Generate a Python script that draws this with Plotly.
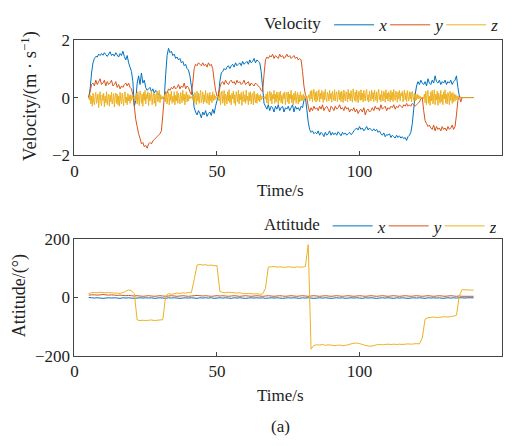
import numpy as np
import plotly.graph_objects as go

# ---------------- data ----------------
# velocity x / y sampled every 0.5 s, velocity z every 0.25 s, from 5 s to 140 s
t_vel = np.arange(5.0, 140.001, 0.5)
t_velz = np.arange(5.0, 140.001, 0.25)
# attitude sampled every 1 s from 5 s to 140 s
t_att = np.arange(5.0, 140.001, 1.0)

vel_x = [
    0.0, 0.3, 0.85, 1.2, 1.35, 1.42, 1.4, 1.5, 1.45, 1.52, 1.46, 1.55, 1.48, 1.42, 1.5, 1.58, 1.45, 1.5, 1.43, 1.55,
    1.47, 1.4, 1.52, 1.45, 1.6, 1.42, 1.3, 1.45, 1.2, 1.05, 0.9, 0.55, -0.3, -0.1, 0.5, 0.75, 0.45, 0.85, 0.5, 0.6,
    0.35, 0.25, 0.3, 0.35, 0.2, 0.3, 0.15, 0.25, 0.2, 0.1, 0.05, -0.05, 0.0, -0.05, 0.8, 1.45, 1.7, 1.55, 1.6, 1.45,
    1.5, 1.35, 1.4, 1.3, 1.35, 1.2, 1.25, 1.1, 1.15, 1.0, 0.95, 0.75, 0.4, 0.1, -0.35, -0.5, -0.6, -0.45, -0.55, -0.7,
    -0.5, -0.6, -0.45, -0.65, -0.55, -0.5, -0.62, -0.4, -0.55, -0.3, -0.1, 0.05, 0.55, 0.85, 0.9, 1.0, 0.95, 1.05, 1.1, 1.0,
    1.1, 1.15, 1.05, 1.2, 1.1, 1.15, 1.2, 1.1, 1.25, 1.15, 1.2, 1.25, 1.15, 1.3, 1.2, 1.25, 1.35, 1.2, 1.3, 1.25,
    1.2, 0.9, 0.35, -0.2, -0.3, -0.4, -0.25, -0.45, -0.3, -0.35, -0.5, -0.3, -0.4, -0.25, -0.45, -0.35, -0.3, -0.5, -0.35, -0.4,
    -0.3, -0.45, -0.35, -0.25, -0.5, -0.3, -0.4, -0.35, -0.45, -0.3, -0.35, -0.1, 0.0, -0.4, -0.85, -1.1, -1.2, -1.15, -1.25, -1.2,
    -1.25, -1.15, -1.3, -1.2, -1.25, -1.35, -1.2, -1.3, -1.25, -1.15, -1.3, -1.2, -1.28, -1.22, -1.3, -1.18, -1.25, -1.32, -1.2, -1.27,
    -1.22, -1.3, -1.25, -1.2, -1.28, -1.24, -1.15, -1.1, -1.05, -1.12, -1.0, -1.1, -1.05, -1.15, -1.08, -1.0, -1.12, -1.05, -1.1, -1.15,
    -1.08, -1.15, -1.1, -1.2, -1.15, -1.25, -1.3, -1.22, -1.35, -1.28, -1.3, -1.25, -1.38, -1.3, -1.35, -1.4, -1.3, -1.38, -1.32, -1.4,
    -1.35, -1.42, -1.38, -1.48, -1.35, -1.3, -1.2, -0.9, -0.4, 0.1, 0.4, 0.55, 0.45, 0.6, 0.5, 0.45, 0.55, 0.4, 0.65, 0.5,
    0.45, 0.6, 0.5, 0.75, 0.55, 0.5, 0.6, 0.45, 0.55, 0.5, 0.6, 0.45, 0.55, 0.5, 0.6, 0.45, 0.55, 0.6, 0.75, 0.35,
    0.05, 0.0, 0.0, 0.0, 0.0, 0.0, 0.0, 0.0, 0.0, 0.0, 0.0,
]

vel_y = [
    0.0, 0.2, 0.45, 0.5, 0.4, 0.6, 0.45, 0.55, 0.65, 0.45, 0.5, 0.6, 0.4, 0.55, 0.45, 0.5, 0.6, 0.4, 0.45, 0.55,
    0.35, 0.45, 0.3, 0.4, 0.35, 0.45, 0.5, 0.4, 0.5, 0.35, 0.3, 0.1, -0.3, -0.75, -1.0, -1.25, -1.4, -1.6, -1.55, -1.7,
    -1.65, -1.75, -1.6, -1.55, -1.6, -1.5, -1.45, -1.4, -1.35, -1.3, -1.25, -1.15, -0.6, 0.0, 0.2, 0.15, 0.3, 0.25, 0.35, 0.3,
    0.4, 0.3, 0.35, 0.45, 0.3, 0.4, 0.35, 0.5, 0.3, 0.4, 0.35, 0.2, 0.1, 0.5, 1.0, 1.15, 1.1, 1.2, 1.15, 1.1,
    1.2, 1.1, 1.15, 1.05, 1.2, 1.1, 1.15, 1.0, 0.6, 0.25, 0.05, 0.05, 0.35, 0.5, 0.55, 0.45, 0.6, 0.5, 0.45, 0.55,
    0.6, 0.5, 0.55, 0.45, 0.6, 0.5, 0.55, 0.45, 0.5, 0.6, 0.45, 0.5, 0.55, 0.4, 0.5, 0.45, 0.4, 0.5, 0.45, 0.4,
    0.35, 0.25, 0.2, 0.8, 1.3, 1.4, 1.35, 1.45, 1.4, 1.5, 1.35, 1.45, 1.4, 1.35, 1.5, 1.4, 1.45, 1.35, 1.4, 1.5,
    1.4, 1.45, 1.35, 1.4, 1.45, 1.35, 1.4, 1.3, 1.35, 1.3, 0.9, 0.4, 0.1, 0.0, -0.3, -0.5, -0.35, -0.45, -0.3, -0.4,
    -0.35, -0.45, -0.3, -0.4, -0.25, -0.45, -0.35, -0.3, -0.4, -0.5, -0.3, -0.35, -0.45, -0.3, -0.4, -0.35, -0.25, -0.4, -0.35, -0.45,
    -0.3, -0.4, -0.35, -0.5, -0.4, -0.45, -0.35, -0.5, -0.4, -0.55, -0.45, -0.4, -0.5, -0.35, -0.6, -0.45, -0.4, -0.5, -0.45, -0.35,
    -0.45, -0.3, -0.4, -0.35, -0.45, -0.25, -0.4, -0.35, -0.3, -0.45, -0.35, -0.4, -0.3, -0.35, -0.25, -0.4, -0.3, -0.35, -0.25, -0.3,
    -0.35, -0.25, -0.3, -0.2, -0.3, -0.25, -0.3, -0.2, -0.25, -0.3, -0.25, -0.2, -0.15, -0.05, 0.0, -0.45, -0.8, -0.9, -1.0, -0.95,
    -1.05, -1.1, -0.95, -1.15, -1.0, -1.1, -1.05, -1.15, -1.0, -1.1, -1.05, -1.15, -1.0, -1.1, -1.05, -0.95, -1.1, -1.0, -0.6, -0.1,
    0.05, -0.15, 0.0, 0.0, 0.0, 0.0, 0.0, 0.0, 0.0, 0.0, 0.0,
]

vel_z = [
    # 5 - 14.75 s
    0.0, -0.08, 0.1, -0.22, 0.05, -0.3, 0.15, -0.12, -0.25, 0.08, 0.18, -0.2, -0.05, 0.12, -0.35, 0.02, 0.2, -0.15, -0.28, 0.1,
    -0.1, 0.15, -0.32, 0.05, -0.18, 0.2, -0.25, -0.02, 0.12, -0.3, 0.08, -0.15, 0.18, -0.22, -0.08, 0.14, -0.33, 0.0, 0.16, -0.2,
    # 15 - 24.75 s
    0.12, -0.25, 0.05, -0.3, 0.18, -0.1, -0.22, 0.15, -0.05, -0.28, 0.1, 0.2, -0.18, 0.02, -0.25, 0.14, -0.12, 0.08, -0.2, 0.1,
    -0.1, 0.06, -0.03, 0.02, -0.02, 0.05, -0.12, 0.15, -0.22, 0.2, -0.05, -0.28, 0.22, 0.08, -0.2, 0.12, -0.3, 0.18, -0.1, 0.25,
    # 25 - 34.75 s
    -0.22, 0.1, -0.05, 0.2, -0.28, 0.15, -0.12, 0.05, 0.22, -0.25, 0.0, 0.18, -0.2, 0.12, -0.3, 0.08, 0.2, -0.15, -0.05, 0.25,
    -0.18, 0.1, -0.06, 0.04, -0.02, 0.03, -0.04, 0.1, -0.15, 0.2, -0.22, 0.05, 0.18, -0.25, 0.12, -0.1, 0.22, -0.2, 0.05, -0.15,
    # 35 - 44.75 s
    0.2, -0.25, 0.08, -0.12, 0.22, -0.2, 0.15, -0.05, -0.22, 0.18, 0.02, -0.18, 0.25, -0.1, 0.12, -0.25, 0.05, 0.2, -0.15, 0.1,
    -0.12, 0.08, -0.05, 0.03, -0.02, 0.04, -0.06, 0.12, -0.2, 0.18, 0.02, -0.25, 0.22, -0.12, 0.15, -0.2, 0.08, 0.25, -0.18, -0.05,
    # 45 - 54.75 s
    0.2, -0.22, 0.1, -0.15, 0.25, -0.08, -0.2, 0.15, 0.02, -0.25, 0.18, -0.12, 0.08, -0.18, 0.2, -0.1, 0.12, -0.08,
    0.05, -0.03, 0.02, -0.02, 0.04,
    -0.12, 0.18, -0.25, 0.1, 0.22, -0.2, -0.05, 0.25, -0.28, 0.12, 0.05, -0.22, 0.2, -0.12, 0.27, -0.18, 0.08,
    # 55 - 64.75 s
    -0.25, 0.15, -0.05, 0.22, -0.2, 0.1, -0.28, 0.2, 0.05, -0.15, 0.25, -0.22, 0.12, -0.08, 0.18, -0.27, 0.02, 0.22, -0.15, 0.1,
    -0.2, 0.26, -0.1, 0.05, -0.25, 0.18, -0.12, 0.2, -0.22, 0.08, 0.15, -0.25, 0.22, -0.05, -0.18, 0.12, -0.2, 0.15, -0.1, 0.08,
    # 65 - 74.75 s
    -0.15, 0.12, -0.08, 0.05, -0.03, 0.02, -0.02, 0.03, -0.06,
    0.12, -0.18, 0.2, -0.25, 0.05, 0.22, -0.12, 0.18, -0.22, 0.1, -0.05, 0.25, -0.2, 0.12, -0.15, 0.2, 0.02, -0.25, 0.18, -0.1,
    0.22, -0.18, 0.08, -0.22, 0.15, -0.05, 0.2, -0.25, 0.1, 0.18, -0.15,
    # 75 - 84.75 s
    0.2, -0.22, 0.12, -0.05, 0.25, -0.18, 0.08, -0.25, 0.15, -0.1, 0.22, -0.2, 0.05, 0.18, -0.22, 0.1, -0.15, 0.2, -0.12, 0.08,
    -0.1, 0.12, -0.08, 0.06, -0.04, 0.03, -0.02, 0.02, 0.0,
    0.1, -0.12, 0.22, -0.05, 0.25, -0.15, 0.12, 0.28, -0.1, 0.18, -0.16,
    # 85 - 94.75 s
    0.22, -0.1, 0.05, 0.27, -0.15, 0.15, -0.05, 0.25, 0.08, -0.17, 0.2, -0.08, 0.28, 0.0, -0.14, 0.18, 0.1, -0.12, 0.25, -0.05,
    0.15, -0.16, 0.22, 0.05, -0.1, 0.27, -0.12, 0.12, 0.2, -0.15, 0.08, 0.25, -0.08, 0.18, -0.14, 0.22, 0.02, -0.17, 0.26, 0.05,
    # 95 - 104.75 s
    -0.12, 0.2, 0.1, -0.15, 0.28, -0.05, 0.15, -0.12, 0.24, 0.0, -0.16, 0.3, 0.08, -0.1, 0.2, -0.14, 0.26, 0.05, -0.18, 0.22,
    0.12, -0.1, 0.27, -0.08, 0.15, -0.15, 0.25, 0.02, -0.12, 0.2, 0.28, -0.1, 0.1, -0.16, 0.22, 0.05, -0.12, 0.25, -0.05, 0.18,
    # 105 - 114.75 s
    -0.14, 0.26, 0.05, -0.1, 0.2, -0.17, 0.15, 0.28, -0.08, 0.1, -0.15, 0.24, 0.02, -0.12, 0.22, 0.12, -0.16, 0.27, -0.05, 0.15,
    -0.12, 0.2, 0.08, -0.15, 0.25, -0.08, 0.18, -0.14, 0.28, 0.0, -0.1, 0.22, 0.1, -0.16, 0.2, -0.05, 0.25, -0.12, 0.15, 0.05,
    # 115 - 124.75 s
    0.22, -0.15, 0.1, 0.26, -0.08, 0.15, -0.14, 0.24, 0.02, -0.12, 0.2, -0.05, 0.18, -0.15, 0.22, 0.05, -0.1, 0.15, -0.12, 0.1,
    -0.08, 0.12, -0.05, 0.08, -0.04, 0.05,
    -0.03, 0.02, -0.01, 0.02, -0.04,
    0.12, -0.18, 0.22, -0.25, 0.1, 0.25, -0.2, 0.05, -0.27,
    # 125 - 134.75 s
    0.2, -0.12, 0.25, -0.22, 0.05, 0.27, -0.25, 0.12, -0.08, 0.22, -0.27, 0.15, 0.02, -0.2, 0.25, -0.15, 0.1, -0.25, 0.2, -0.05,
    0.27, -0.2, 0.12, -0.22, 0.18, 0.05, -0.25, 0.22, -0.1, 0.15, -0.2, 0.18, -0.15, 0.12, -0.12, 0.1, -0.08, 0.06, -0.04, 0.03,
    # 135 - 140 s
    -0.02, 0.01, 0.0, 0.0, 0.0, 0.0, 0.0, 0.0, 0.0, 0.0, 0.0, 0.0, 0.0, 0.0, 0.0, 0.0, 0.0, 0.0, 0.0, 0.0, 0.0,
]

att_x = [
    -1, -2, -3, -2, -3, -4, -3, -2, -3, -2,
    -3, -4, -2, -3, -2, -3, -4, -3, -2, -3,
    -2, -3, -2, -4, -3, -2, -3, -4, -2, -3,
    -2, -3, -4, -3, -2, -3, -2, -3, -4, -2,
    -3, -2, -3, -2, -4, -3, -2, -3, -2, -3,
    -4, -2, -3, -2, -3, -4, -3, -2, -3, -2,
    -3, -2, -4, -3, -2, -3, -2, -3, -4, -3,
    -2, -3, -2, -3, -4, -2, -3, -2, -3, -4,
    -3, -2, -3, -2, -3, -4, -3, -2, -3, -2,
    -4, -3, -2, -3, -2, -3, -4, -2, -3, -2,
    -3, -4, -3, -2, -3, -2, -3, -4, -2, -3,
    -2, -3, -4, -3, -2, -3, -2, -3, -4, -2,
    -3, -2, -3, -2, -4, -3, -2, -3, -2, -3,
    -2, -2, -3, -2, -2, -2,
]

att_y = [
    7, 8, 8, 7, 8, 9, 8, 7, 8, 7,
    6, 7, 6, 5, 6, 5, 4, 5, 4, 3,
    4, 5, 4, 3, 4, 5, 4, 3, 4, 5,
    4, 3, 4, 5, 4, 3, 4, 5, 6, 5,
    4, 5, 4, 3, 4, 5, 4, 5, 4, 3,
    4, 5, 4, 3, 4, 5, 4, 3, 4, 5,
    4, 3, 4, 5, 4, 3, 4, 5, 4, 3,
    4, 5, 4, 3, 4, 5, 4, 3, 4, 5,
    4, 3, 4, 5, 4, 3, 4, 5, 4, 3,
    4, 5, 4, 3, 4, 5, 4, 3, 4, 5,
    4, 3, 4, 5, 4, 3, 4, 5, 4, 3,
    4, 5, 4, 3, 4, 5, 4, 3, 4, 5,
    4, 3, 4, 5, 4, 3, 4, 5, 4, 3,
    4, 3, 3, 3, 3, 3,
]

att_z = [
    12, 15, 16, 15, 17, 16, 15, 16, 15, 14,
    14, 13, 16, 20, 25, 22, 12, -78, -80, -79,
    -80, -79, -78, -80, -79, -78, -77, 5, 12, 10,
    12, 14, 13, 15, 14, 16, 15, 60, 110, 112,
    110, 111, 109, 110, 108, 108, 20, 16, 15, 17,
    16, 15, 14, 15, 13, 12, 13, 12, 11, 12,
    10, 11, 30, 103, 104, 105, 103, 104, 103, 102,
    104, 103, 102, 104, 103, 103, 105, 180, -178, -165,
    -163, -164, -162, -165, -163, -164, -166, -165, -164, -166,
    -165, -163, -160, -158, -157, -159, -162, -165, -167, -168,
    -166, -163, -162, -163, -162, -161, -162, -161, -162, -161,
    -162, -161, -160, -161, -160, -159, -160, -140, -75, -70,
    -69, -68, -70, -69, -68, -67, -68, -66, -65, -62,
    5, 26, 25, 25, 24, 24,
]

series_names = ["<i>x</i>", "<i>y</i>", "<i>z</i>"]
colors = ["#0072BD", "#D95319", "#EDB120"]

x_ticks = [0, 50, 100, 150]
vel_ticks = [-2, 0, 2]
att_ticks = [-200, 0, 200]

# ---------------- figure ----------------
W, H = 513, 446
FONT = "Liberation Serif"
TXT = "#222"
fig = go.Figure()

vel_sets = [(t_vel, vel_x), (t_vel, vel_y), (t_velz, vel_z)]
for name, col, (tt, vals) in zip(series_names, colors, vel_sets):
    n = min(len(tt), len(vals))
    fig.add_trace(go.Scatter(x=tt[:n], y=vals[:n], mode="lines", name=name,
                             line=dict(color=col, width=1, simplify=False),
                             xaxis="x", yaxis="y", legend="legend"))
for name, col, vals in zip(series_names, colors, [att_x, att_y, att_z]):
    n = min(len(t_att), len(vals))
    fig.add_trace(go.Scatter(x=t_att[:n], y=vals[:n], mode="lines", name=name,
                             line=dict(color=col, width=1, simplify=False),
                             xaxis="x2", yaxis="y2", legend="legend2"))

def px_x(p):
    return p / W

def px_y(p):
    return 1 - p / H

axis_common = dict(showline=True, mirror=True, linecolor="#444", linewidth=1,
                   ticks="inside", ticklen=4, tickcolor="#444",
                   showgrid=False, zeroline=False,
                   tickfont=dict(family=FONT, size=17, color=TXT))

legend_common = dict(orientation="h", xanchor="left", yanchor="middle",
                     font=dict(family=FONT, size=17, color=TXT), itemwidth=40,
                     entrywidth=1, entrywidthmode="pixels",
                     bgcolor="rgba(0,0,0,0)", tracegroupgap=0)

fig.update_layout(
    width=W, height=H,
    margin=dict(l=0, r=0, t=0, b=0),
    paper_bgcolor="white", plot_bgcolor="white",
    font=dict(family=FONT, size=17, color=TXT),
    xaxis=dict(domain=[px_x(71), px_x(502)], range=[0, 150], tickvals=x_ticks,
               anchor="y", **axis_common),
    yaxis=dict(domain=[px_y(153), px_y(32)], range=[-2, 2], tickvals=vel_ticks,
               anchor="x", **axis_common),
    xaxis2=dict(domain=[px_x(71), px_x(502)], range=[0, 150], tickvals=x_ticks,
                anchor="y2", **axis_common),
    yaxis2=dict(domain=[px_y(362), px_y(240)], range=[-200, 200], tickvals=att_ticks,
                anchor="x2", **axis_common),
    legend=dict(x=px_x(260), y=px_y(17),
                title=dict(text="Velocity", side="left", font=dict(family=FONT, size=17, color=TXT)),
                **legend_common),
    legend2=dict(x=px_x(260), y=px_y(227),
                 title=dict(text="Attitude", side="left", font=dict(family=FONT, size=17, color=TXT)),
                 **legend_common),
    showlegend=True,
)

ann = [
    dict(text="Velocity/(m · s<sup>−1</sup>)", x=px_x(25), y=px_y(91), textangle=-90, size=18.5),
    dict(text="Attitude/(°)", x=px_x(15), y=px_y(299), textangle=-90, size=18),
    dict(text="Time/s", x=px_x(279), y=px_y(190), size=17),
    dict(text="Time/s", x=px_x(279), y=px_y(404), size=17),
    dict(text="(a)", x=px_x(279), y=px_y(436), size=17),
]
for a in ann:
    size = a.pop("size")
    fig.add_annotation(xref="paper", yref="paper", showarrow=False,
                       xanchor="center", yanchor="middle",
                       font=dict(family=FONT, size=size, color=TXT), **a)

fig.write_html("out.html")
